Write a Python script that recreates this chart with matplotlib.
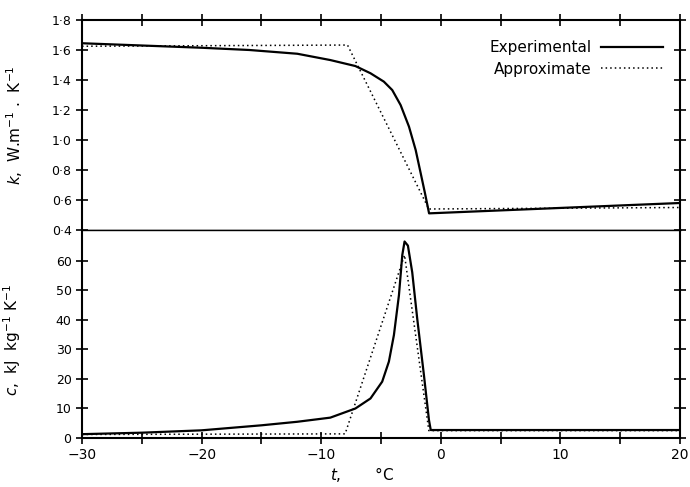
import matplotlib
matplotlib.use("Agg")
import matplotlib.pyplot as plt

plt.rcParams["font.family"] = ["DejaVu Sans"]
plt.rcParams["mathtext.fontset"] = "dejavusans"

# thermal conductivity k (W m-1 K-1) vs temperature t (deg C)
k_exp_t = [-30, -25, -20, -16, -12, -9.24, -7.14, -5.88, -4.76, -4.06, -3.36,
           -2.66, -2.10, -1.68, -1.32, -0.98, 20]
k_exp = [1.645, 1.63, 1.615, 1.60, 1.575, 1.533, 1.493, 1.445, 1.389, 1.333, 1.233,
         1.089, 0.933, 0.778, 0.644, 0.511, 0.58]
k_app_t = [-30, -7.8, -1.0, 20]
k_app = [1.625, 1.633, 0.54, 0.55]

# specific heat c (kJ kg-1 K-1) vs temperature
c_exp_t = [-30, -25, -20, -15, -12, -9.24, -7.14, -5.88, -4.9, -4.34, -3.92,
           -3.5, -3.22, -3.03, -2.75, -2.39, -1.97, -1.41, -0.99, -0.84, 20]
c_exp = [1.3, 1.8, 2.6, 4.3, 5.5, 6.9, 10.0, 13.4, 19.1, 25.9, 34.9,
         48.4, 62, 66.6, 65.2, 56.2, 40.4, 21.3, 6.1, 2.7, 2.7]
c_app_t = [-30, -8.0, -3.03, -1.0, 20]
c_app = [1.2, 1.4, 62, 2.5, 2.5]

x_ticks = list(range(-30, 21, 5))
x_labels = ["\u221230", "", "\u221220", "", "\u221210", "", "0", "", "10", "", "20"]
k_ticks = [0.4, 0.6, 0.8, 1.0, 1.2, 1.4, 1.6, 1.8]
c_ticks = [0, 10, 20, 30, 40, 50, 60]

fig = plt.figure(figsize=(6.9, 4.87), dpi=100)
W, H = 690, 487
left, right = 82 / W, 680 / W
ax1 = fig.add_axes([left, 1 - 230 / H, right - left, 210 / H])
ax2 = fig.add_axes([left, 1 - 438 / H, right - left, 208 / H])

for ax in (ax1, ax2):
    ax.set_xlim(-30, 20)
    for s in ax.spines.values():
        s.set_linewidth(1.5)
    ax.tick_params(direction="inout", length=8, width=1.2, labelsize=9,
                   right=True, left=True)

ax1.spines["bottom"].set_linewidth(1.0)
ax2.spines["top"].set_linewidth(1.0)

# top panel
ax1.plot(k_exp_t, k_exp, color="black", lw=1.6, label="Experimental")
ax1.plot(k_app_t, k_app, color="black", lw=1.1, ls=(0, (1, 2)), label="Approximate")
ax1.set_ylim(0.4, 1.8)
ax1.set_yticks(k_ticks)
ax1.set_yticklabels([f"{v:.1f}".replace(".", "\u00b7") for v in k_ticks])
ax1.set_xticks(x_ticks)
ax1.tick_params(axis="x", top=True, bottom=False, labelbottom=False)
ax1.set_ylabel(r"$k$,  W.m$^{-1}$ .  K$^{-1}$", fontsize=11)
ax1.yaxis.set_label_coords(-0.095, 0.5)
ax1.legend(loc="upper right", bbox_to_anchor=(0.972, 0.905), frameon=False,
           markerfirst=False, fontsize=11, handlelength=4.1, handletextpad=0.6,
           labelspacing=0.45, borderpad=0, borderaxespad=0)

# bottom panel
ax2.plot(c_exp_t, c_exp, color="black", lw=1.6)
ax2.plot(c_app_t, c_app, color="black", lw=1.1, ls=(0, (1, 2)))
ax2.set_ylim(0, 70.5)
ax2.set_yticks(c_ticks)
ax2.set_xticks(x_ticks)
ax2.set_xticklabels(x_labels)
ax2.tick_params(axis="x", top=False, bottom=True, labelsize=10)
ax2.set_ylabel(r"$c$,  kJ  kg$^{-1}$ K$^{-1}$", fontsize=11)
ax2.yaxis.set_label_coords(-0.099, 0.47)

fig.text(362 / W, 1 - 475 / H, r"$t$,       °C", fontsize=11, ha="center", va="center")

fig.savefig("out.png", dpi=100)
